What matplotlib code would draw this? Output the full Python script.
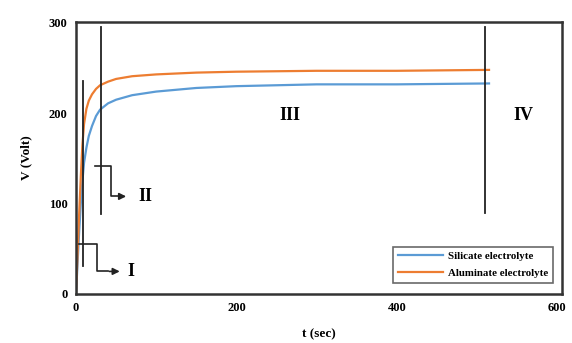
import matplotlib
matplotlib.use("Agg")
import matplotlib.pyplot as plt

# Data
t = [0, 2, 4, 6, 8, 10, 13, 16, 20, 25, 30, 40, 50, 70, 100, 150, 200, 300, 400, 515]
silicate = [0, 35, 70, 100, 125, 145, 162, 175, 186, 197, 204, 211, 215, 220, 224, 228, 230, 232, 232, 233]
aluminate = [0, 45, 90, 130, 165, 188, 205, 214, 221, 227, 231, 235, 238, 241, 243, 245, 246, 247, 247, 248]
series_labels = ["Silicate electrolyte", "Aluminate electrolyte"]
stage_labels = ["I", "II", "III", "IV"]
xticks = [0, 200, 400, 600]
yticks = [0, 100, 200, 300]

plt.rcParams['font.family'] = ['Liberation Serif', 'DejaVu Serif']
plt.rcParams['font.weight'] = 'bold'

fig = plt.figure(figsize=(5.72, 3.43), dpi=100)
ax = fig.add_axes([76/572, 1-294/343, (562-76)/572, (294-22)/343])

ax.plot(t, silicate, color='#5B9BD5', lw=1.6, label=series_labels[0])
ax.plot(t, aluminate, color='#ED7D31', lw=1.6, label=series_labels[1])

# stage boundary lines
ax.plot([9, 9], [31, 236], color='#222222', lw=1.3)
ax.plot([31, 31], [89, 295], color='#222222', lw=1.3)
ax.plot([510, 510], [90, 295], color='#222222', lw=1.3)

# bracket arrows
ax.plot([4, 26, 26, 40], [55, 55, 25, 25], color='#222222', lw=1.2)
ax.annotate('', xy=(58, 25), xytext=(38, 25),
            arrowprops=dict(arrowstyle='-|>', color='#222222', lw=1.2, mutation_scale=10))
ax.plot([24, 44, 44, 56], [142, 142, 108, 108], color='#222222', lw=1.2)
ax.annotate('', xy=(66, 108), xytext=(54, 108),
            arrowprops=dict(arrowstyle='-|>', color='#222222', lw=1.2, mutation_scale=10))

ax.text(64, 25, stage_labels[0], fontsize=13, fontweight='bold', va='center', ha='left')
ax.text(78, 108, stage_labels[1], fontsize=13, fontweight='bold', va='center', ha='left')
ax.text(267, 197, stage_labels[2], fontsize=13, fontweight='bold', va='center', ha='center')
ax.text(558, 197, stage_labels[3], fontsize=13, fontweight='bold', va='center', ha='center')

ax.set_xlim(0, 606)
ax.set_ylim(0, 301)
ax.set_xticks(xticks)
ax.set_yticks(yticks)
ax.tick_params(length=0, labelsize=9, pad=6)
for lab in ax.get_xticklabels() + ax.get_yticklabels():
    lab.set_fontweight('bold')
for s in ax.spines.values():
    s.set_color('#333333')
    s.set_linewidth(1.8)

ax.set_xlabel('t (sec)', fontsize=9.5, fontweight='bold', labelpad=10)
ax.set_ylabel('V (Volt)', fontsize=9.5, fontweight='bold', labelpad=12)

leg = ax.legend(loc='lower right', frameon=True, fancybox=False,
                edgecolor='#444444', handlelength=4.2, borderpad=0.45,
                labelspacing=0.7, handletextpad=0.4,
                bbox_to_anchor=(0.992, 0.02), prop={'weight': 'bold', 'size': 7.8})
leg.get_frame().set_linewidth(1.2)

fig.savefig('out.png', dpi=100)
